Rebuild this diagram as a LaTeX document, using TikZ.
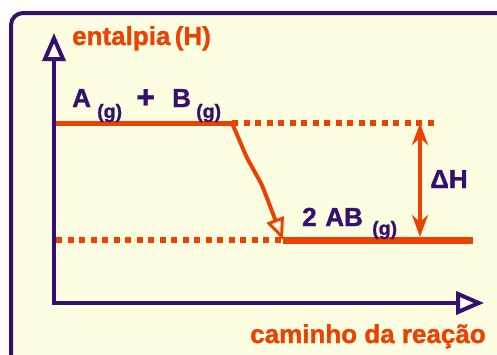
\documentclass[tikz,border=0pt]{standalone}
\usepackage{fontspec}
\setmainfont{Liberation Sans}[BoldFeatures={FakeBold=1.2}]
\usetikzlibrary{arrows.meta}
\definecolor{bgyel}{HTML}{FDFDE2}
\definecolor{purp}{HTML}{35106E}
\definecolor{orng}{HTML}{EC4100}
\tikzset{
  main/.style={font=\fontsize{26}{26}\selectfont\bfseries, inner sep=0pt, anchor=base west},
  sublab/.style={font=\fontsize{19.5}{20}\selectfont\bfseries, inner sep=0pt, anchor=base west, text=purp},
  axis/.style={draw=purp, line width=4pt, -{Triangle[length=28pt,width=23pt,fill=white,line width=4pt]}},
  dots/.style={draw=orng, line width=6pt, dash pattern=on 6pt off 5.5pt},
  level/.style={draw=orng},
}
\begin{document}
\begin{tikzpicture}[x=1pt,y=-1pt]
\useasboundingbox (0,0) rectangle (497,354);
\clip (0,0) rectangle (497,354);
% frame
\draw[purp, fill=bgyel, line width=4pt, rounded corners=12pt] (11,13) rectangle (530,380);
% axes
\coordinate (orig) at (54,303);
\coordinate (ytip) at (54,33);
\coordinate (xtip) at (484,303);
\draw[axis] ([yshift=2pt]orig) -- (ytip);
\draw[axis] ([xshift=-2pt]orig) -- (xtip);
% levels
\coordinate (r0) at (56,123);
\coordinate (r1) at (232,123);
\coordinate (r2) at (437,123);
\coordinate (p0) at (56,240);
\coordinate (p1) at (283,240);
\coordinate (p2) at (473,240);
\draw[level, line width=5pt] (r0) -- (r1);
\draw[dots] (r1) -- (r2);
\draw[dots] (p0) -- (p1);
\draw[level, line width=7pt] (p1) -- (p2);
% reaction arrow
\draw[orng, line width=4pt, rounded corners=5pt, -{Triangle[open,length=22pt,width=18pt,line width=3pt]}]
  (r1) -- (247,158) -- (262,185) -- (p1);
% delta H
\coordinate (dht) at (420,123);
\coordinate (dhb) at (420,237);
\draw[orng, line width=4pt, {Stealth[length=22pt,width=16pt,inset=7pt]}-{Stealth[length=22pt,width=16pt,inset=7pt]}] (dht) -- (dhb);
% labels
\node[main, text=orng] (ent) at (72,45) {entalpia\,(H)};
\node[main, text=purp] (la) at (72,107) {A};
\node[sublab] (sa) at (97,118) {(g)};
\node[main, text=purp, font=\fontsize{32}{32}\selectfont\bfseries] (pl) at (136,108) {+};
\node[main, text=purp] (lb) at (172,107) {B};
\node[sublab] (sb) at (196,118) {(g)};
\node[main, text=purp] (ab) at (302,226) {2\,\,AB};
\node[sublab] (sab) at (372,235) {(g)};
\node[main, text=purp] (dh) at (430,188) {ΔH};
\node[main, text=orng] (cam) at (250,343) {caminho da reação};
\end{tikzpicture}
\end{document}
